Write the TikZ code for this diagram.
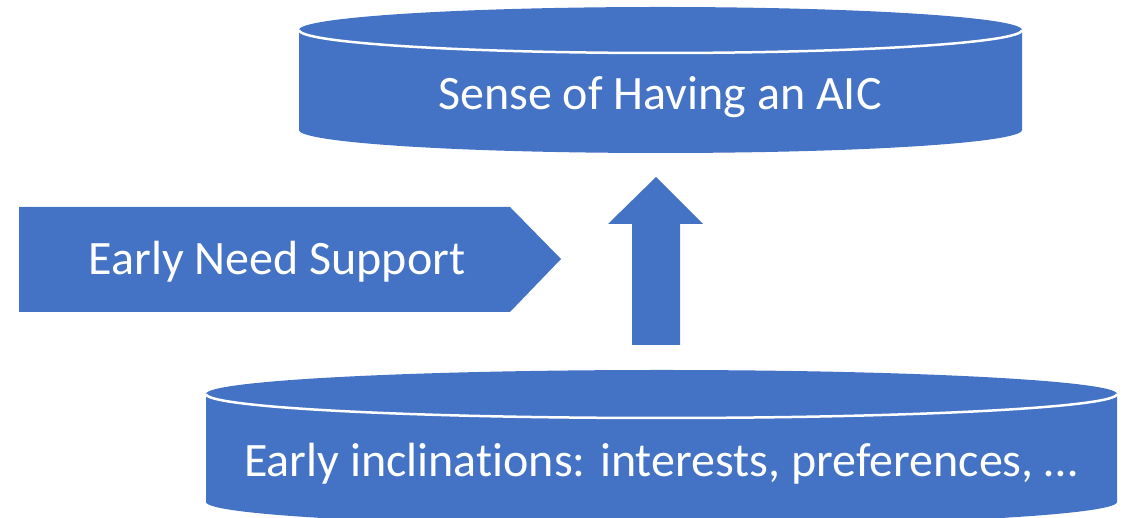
\documentclass[tikz,border=0pt]{standalone}
\usepackage{fontspec}
\setmainfont{Carlito}[RawFeature={-liga}]
\usepackage{tikz}
\definecolor{boxblue}{HTML}{4472C4}
\tikzset{
  shape fill/.style={fill=boxblue, draw=none},
  rim/.style={draw=white, line width=2.5pt},
  label/.style={text=white, font=\fontsize{48}{56}\selectfont, anchor=base, inner sep=0pt}
}

\begin{document}
\begin{tikzpicture}[x=1pt,y=1pt]
\useasboundingbox (0,0) rectangle (1125,518);

% top cylinder
\fill[boxblue] (299,488) -- (299,388) arc[start angle=180,end angle=360,x radius=361.5,y radius=23] -- (1022,488) arc[start angle=0,end angle=180,x radius=361.5,y radius=23] -- cycle;
\draw[rim] (299,488) arc[start angle=180,end angle=360,x radius=361.5,y radius=23];
\node[label] (aic) at (660,408) {Sense of Having an AIC};

% pentagon
\fill[boxblue] (19,311) -- (510,311) -- (561,259) -- (510,206) -- (19,206) -- cycle;
\node[label] (need) at (277,243) {Early Need Support};

% up arrow
\fill[boxblue] (656,341) -- (703,294) -- (680,294) -- (680,173) -- (632,173) -- (632,294) -- (608,294) -- cycle;

% bottom cylinder
\fill[boxblue] (206,124) -- (206,16) arc[start angle=180,end angle=360,x radius=455.5,y radius=24] -- (1117,124) arc[start angle=0,end angle=180,x radius=455.5,y radius=24] -- cycle;
\draw[rim] (206,124) arc[start angle=180,end angle=360,x radius=455.5,y radius=24];
\node[label] (incl) at (661,41) {Early inclinations: interests, preferences, …};

\end{tikzpicture}
\end{document}
